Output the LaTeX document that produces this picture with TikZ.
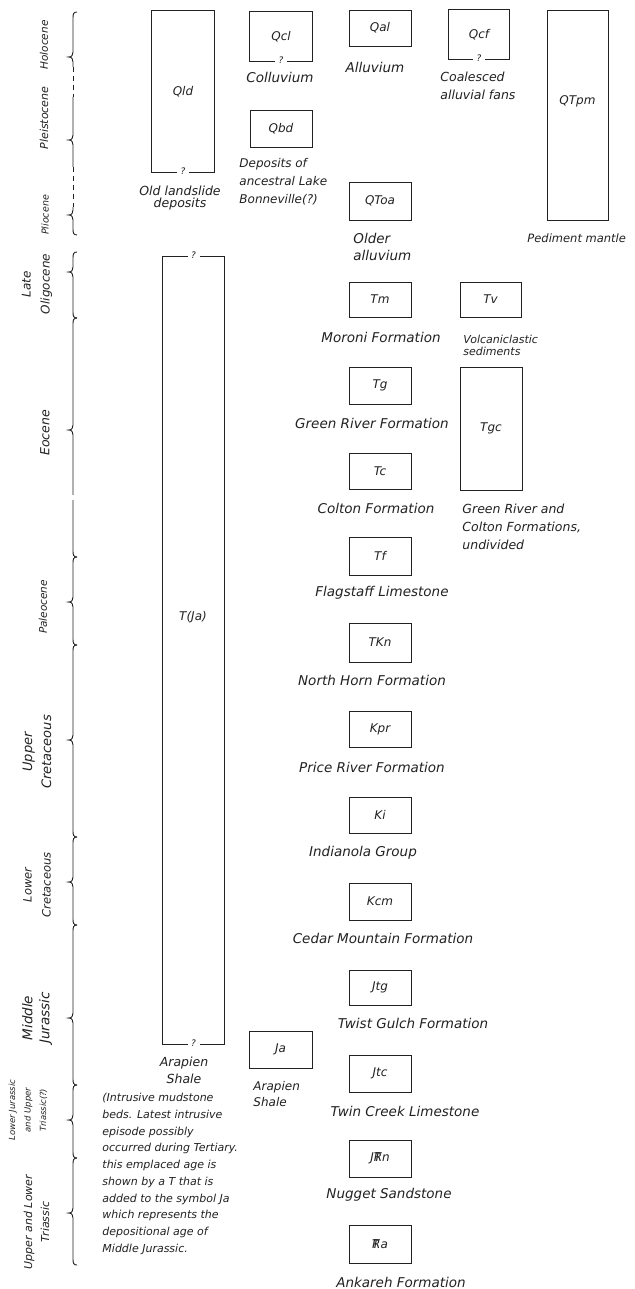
\documentclass[tikz,border=0pt]{standalone}
\usepackage{fontspec}
\setmainfont{DejaVu Sans}
\definecolor{ink}{HTML}{222222}
\newcommand\fsz[2]{\fontsize{#1}{#2}\selectfont\itshape}
\newcommand\TRs{\rlap{T}R}
\newcommand\gbr[3]{%
 \draw (77,#1) .. controls (73.5,#1) and (73,{#1+2}) .. (73,{#1+6}) -- (73,{#2-5})
   .. controls (73,{#2-2}) and (72,#2) .. (68.5,#2)
   .. controls (72,#2) and (73,{#2+2}) .. (73,{#2+5}) -- (73,{#3-6})
   .. controls (73,{#3-2}) and (73.5,#3) .. (77,#3);}
\begin{document}
\begin{tikzpicture}[x=1pt,y=-1pt,line width=0.9pt,draw=ink,
  fbox/.style={draw=ink,line width=0.9pt,minimum width=62pt,minimum height=37pt,inner sep=0pt,font=\fsz{12}{14},text=ink},
  obox/.style={minimum width=62pt,inner sep=0pt,font=\fsz{12}{14},text=ink},
  sym/.style={inner sep=0pt,font=\fsz{12}{14},text=ink},
  desc/.style={inner sep=0pt,font=\fsz{13.5}{18},text=ink},
  qm/.style={inner sep=0pt,font=\fsz{9}{10},text=ink},
  era/.style={rotate=90,inner sep=0pt,align=center,text=ink},
  dashline/.style={dash pattern=on 5pt off 4pt}]
\useasboundingbox[fill=white] (0,0) rectangle (634,1289);

% ---------- time scale braces ----------
\draw (77,12) .. controls (73.5,12) and (73,14) .. (73,18) -- (73,52)
  .. controls (73,55) and (72,57) .. (68.5,57) .. controls (72,57) and (73,59) .. (73,62) -- (73,67);
\draw[dashline] (73,67) -- (73,97);
\draw (73,97) -- (73,135) .. controls (73,138) and (72,140) .. (68.5,140)
  .. controls (72,140) and (73,142) .. (73,145) -- (73,167);
\draw[dashline] (73,167) -- (73,207);
\draw (73,207) -- (73,210) .. controls (73,213) and (72,215) .. (68.5,215)
  .. controls (72,215) and (73,217) .. (73,220) -- (73,229) .. controls (73,233) and (73.5,235) .. (77,235);
\gbr{252}{272}{318}
\gbr{318}{430}{557}
\draw[white,line width=2.5pt] (73,495) -- (73,500);
\gbr{557}{602}{645}
\gbr{645}{740}{837}
\gbr{837}{882}{925}
\gbr{925}{1018}{1085}
\gbr{1085}{1120}{1158}
\gbr{1158}{1213}{1265}

% ---------- era labels ----------
\node[era,font=\fsz{10.5}{15}] (eHol) at (44,45) {Holocene};
\node[era,font=\fsz{11}{15}] (ePle) at (44,118) {Pleistocene};
\node[era,font=\fsz{9.5}{15}] (ePli) at (45,215) {Pliocene};
\node[era,font=\fsz{12}{19}] (eOli) at (37,284) {Late\\Oligocene};
\node[era,font=\fsz{12.5}{15}] (eEoc) at (45,433) {Eocene};
\node[era,font=\fsz{10.5}{15}] (ePal) at (43,607) {Paleocene};
\node[era,font=\fsz{13}{19}] (eUC) at (37,752) {Upper\\Cretaceous};
\node[era,font=\fsz{11.5}{19}] (eLC) at (37,885) {Lower\\Cretaceous};
\node[era,font=\fsz{13.5}{17}] (eMJ) at (37,1018) {Middle\\Jurassic};
\node[era,font=\fsz{8.5}{15.5}] (eLJ) at (28,1110) {Lower Jurassic\\and Upper\\Triassic(?)};
\node[era,font=\fsz{11}{17}] (eTr) at (36.5,1222) {Upper and Lower\\Triassic};

% ---------- Quaternary ----------
\node[obox,minimum height=161pt] (Qld) at (183,91.5) {Qld};
\draw ([xshift=-6pt]Qld.south) -- (Qld.south west) -- (Qld.north west) -- (Qld.north east) -- (Qld.south east) -- ([xshift=6pt]Qld.south);
\node[qm] (Qldq) at ([yshift=1pt]Qld.south) {?};
\node[desc,align=center,font=\fsz{12.5}{12.5}] (QldT) at (180,198) {Old landslide\\deposits};

\node[obox,minimum height=49pt] (Qcl) at (281,36.5) {Qcl};
\draw ([xshift=-6pt]Qcl.south) -- (Qcl.south west) -- (Qcl.north west) -- (Qcl.north east) -- (Qcl.south east) -- ([xshift=6pt]Qcl.south);
\node[qm] (Qclq) at ([yshift=1pt]Qcl.south) {?};
\node[desc] (QclT) at (280,77) {Colluvium};

\node[fbox,minimum height=37pt] (Qbd) at (281,128.5) {Qbd};
\node[desc,align=left,anchor=west,font=\fsz{12}{18}] (QbdT) at (239,182) {Deposits of\\ancestral Lake\\Bonneville(?)};

\node[fbox,minimum height=36pt] (Qal) at (380,28) {Qal};
\node[desc] (QalT) at (375,67) {Alluvium};

\node[obox,minimum width=60pt,minimum height=49pt] (Qcf) at (479,34.5) {Qcf};
\draw ([xshift=-6pt]Qcf.south) -- (Qcf.south west) -- (Qcf.north west) -- (Qcf.north east) -- (Qcf.south east) -- ([xshift=6pt]Qcf.south);
\node[qm] (Qcfq) at ([yshift=1pt]Qcf.south) {?};
\node[desc,align=left,anchor=west,font=\fsz{12.5}{18}] (QcfT) at (440,86) {Coalesced\\alluvial fans};

\node[fbox,minimum width=61pt,minimum height=210pt] (QTpm) at (577.5,115) {};
\node[sym] (QTpmT) at (577.5,101) {QTpm};
\node[desc,anchor=west,font=\fsz{11.5}{14}] (QTpmD) at (527,238) {Pediment mantle};

\node[fbox,minimum height=38pt] (QToa) at (380,201) {QToa};
\node[desc,align=left,anchor=west,font=\fsz{13.5}{17}] (QToaT) at (353,246.5) {Older\\alluvium};

% ---------- Tertiary ----------
\node[fbox,minimum height=35pt] (Tm) at (380,299.5) {Tm};
\node[desc] (TmT) at (381,337) {Moroni Formation};

\node[fbox,minimum width=61pt,minimum height=35pt] (Tv) at (490.5,299.5) {Tv};
\node[desc,align=left,anchor=west,font=\fsz{11}{12}] (TvT) at (463,345) {Volcaniclastic\\sediments};

\node[fbox] (Tg) at (380,385.5) {Tg};
\node[desc] (TgT) at (372,423) {Green River Formation};

\node[fbox,minimum height=123pt] (Tgc) at (491,428.5) {Tgc};
\node[desc,align=left,anchor=west,font=\fsz{12.5}{18}] (TgcT) at (462,527) {Green River and\\Colton Formations,\\undivided};

\node[fbox,minimum height=36pt] (Tc) at (380,471) {Tc};
\node[desc] (TcT) at (376,508) {Colton Formation};

\node[fbox,minimum height=38pt] (Tf) at (380,556) {Tf};
\node[desc] (TfT) at (382,593) {Flagstaff Limestone};

\node[fbox,minimum height=39pt] (TKn) at (380,642.5) {TKn};
\node[desc] (TKnT) at (372,680) {North Horn Formation};

% ---------- Cretaceous ----------
\node[fbox,minimum height=36pt] (Kpr) at (380,729) {Kpr};
\node[desc] (KprT) at (372,767) {Price River Formation};

\node[fbox,minimum height=36pt] (Ki) at (380,815) {Ki};
\node[desc] (KiT) at (363,853) {Indianola Group};

\node[fbox] (Kcm) at (380,901.5) {Kcm};
\node[desc] (KcmT) at (383,938) {Cedar Mountain Formation};

% ---------- Jurassic / Triassic ----------
\node[fbox,minimum height=35pt] (Jtg) at (380,987.5) {Jtg};
\node[desc] (JtgT) at (413,1023) {Twist Gulch Formation};

\node[fbox] (Jtc) at (380,1073.5) {Jtc};
\node[desc] (JtcT) at (405,1111) {Twin Creek Limestone};

\node[fbox] (JTRn) at (380,1158.5) {J\TRs n};
\node[desc] (JTRnT) at (389,1195) {Nugget Sandstone};

\node[fbox,minimum height=38pt] (TRa) at (380,1244) {\TRs a};
\node[desc] (TRaT) at (401,1282) {Ankareh Formation};

% ---------- Arapien Shale ----------
\node[obox,minimum width=61pt,minimum height=787pt] (TJa) at (193.5,650.5) {};
\draw ([xshift=-6pt]TJa.north) -- (TJa.north west) -- (TJa.south west) -- ([xshift=-6pt]TJa.south);
\draw ([xshift=6pt]TJa.north) -- (TJa.north east) -- (TJa.south east) -- ([xshift=6pt]TJa.south);
\node[qm] (TJaq1) at ([yshift=1pt]TJa.north) {?};
\node[qm] (TJaq2) at ([yshift=1pt]TJa.south) {?};
\node[sym] (TJaT) at (193,617) {T(Ja)};
\node[desc,align=center,font=\fsz{12.5}{17}] (TJaD) at (184,1070.5) {Arapien\\Shale};
\node[desc,align=left,anchor=north west,font=\fsz{11}{16.7}] (TJaP) at (102,1093) {(Intrusive mudstone\\beds. Latest intrusive\\episode possibly\\occurred during Tertiary.\\this emplaced age is\\shown by a T that is\\added to the symbol Ja\\which represents the\\depositional age of\\Middle Jurassic.};

\node[fbox,minimum width=63pt] (Ja) at (280.5,1049.5) {Ja};
\node[desc,align=left,anchor=west,font=\fsz{12}{16}] (JaT) at (253,1094) {Arapien\\Shale};
\end{tikzpicture}
\end{document}
